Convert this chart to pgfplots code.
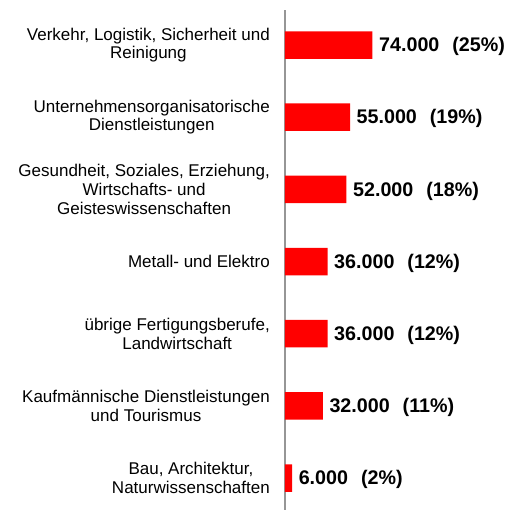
\documentclass[border=0pt]{standalone}
\usepackage{pgfplots}
\pgfplotsset{compat=1.18}
\usepackage{fontspec}
\setmainfont{Liberation Sans}
\definecolor{barred}{RGB}{255,0,0}
\definecolor{axisgray}{RGB}{150,150,150}
\protected\def\gap{\hspace{13pt}}

\begin{document}
\begin{tikzpicture}
\begin{axis}[
  name=ax,
  scale only axis,
  width=224pt, height=500pt,
  xbar, bar width=27.5pt,
  xmin=0, xmax=189500,
  ymin=-0.443, ymax=6.485,
  axis x line=none,
  axis y line*=left,
  y axis line style={draw=axisgray, line width=1.4pt},
  ytick={0,...,6},
  yticklabels={
    {Bau, Architektur,\\Naturwissenschaften},
    {Kaufmännische Dienstleistungen\\und Tourismus},
    {übrige Fertigungsberufe,\\Landwirtschaft},
    {Metall- und Elektro},
    {Gesundheit, Soziales, Erziehung,\\Wirtschafts- und\\Geisteswissenschaften},
    {Unternehmensorganisatorische\\Dienstleistungen},
    {Verkehr, Logistik, Sicherheit und\\Reinigung}},
  major tick length=0pt,
  yticklabel style={align=center, font=\fontsize{17}{18.6}\selectfont, inner sep=0pt, xshift=-15pt},
  point meta=explicit symbolic,
  nodes near coords,
  nodes near coords style={anchor=base west, inner sep=0pt, xshift=6.5pt, yshift=-6.8pt,
    font=\fontsize{19.7}{22}\selectfont\bfseries, text=black},
  clip=false,
]
\addplot[fill=barred, draw=none] coordinates {
  (6000,0)  [6.000\gap(2\%)]
  (32000,1) [32.000\gap(11\%)]
  (36000,2) [36.000\gap(12\%)]
  (36000,3) [36.000\gap(12\%)]
  (52000,4) [52.000\gap(18\%)]
  (55000,5) [55.000\gap(19\%)]
  (74000,6) [74.000\gap(25\%)]
};
\end{axis}
\pgfresetboundingbox
\path[use as bounding box] ([xshift=-285pt]ax.south west) rectangle ([yshift=10pt]ax.north east);
\end{tikzpicture}
\end{document}
